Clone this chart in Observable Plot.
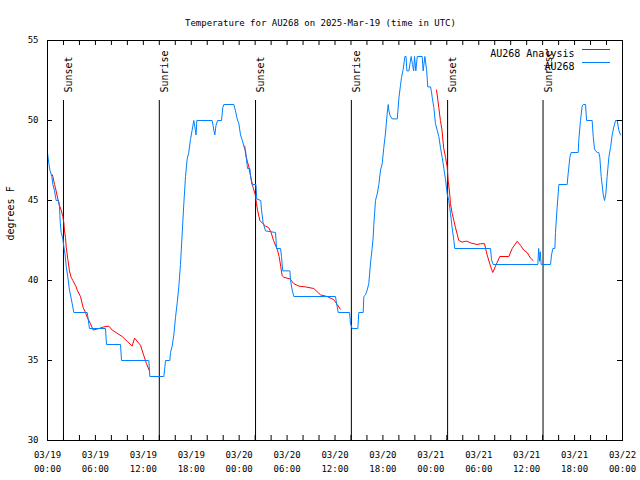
<!DOCTYPE html>
<html>
<head>
<meta charset="utf-8">
<script src="https://cdn.jsdelivr.net/npm/d3@7"></script>
<script src="https://cdn.jsdelivr.net/npm/@observablehq/plot@0.6"></script>
<style>
  html, body { margin: 0; padding: 0; background: #ffffff; }
  svg { display: block; }
</style>
</head>
<body>
<div id="chart"></div>
<script>
// ---- Data (hours since 2025-03-19 00:00 UTC, temperature in °F) ----
const titleText = "Temperature for AU268 on 2025-Mar-19 (time in UTC)";
const yLabelText = "degrees F";

const xTickHours = [0, 6, 12, 18, 24, 30, 36, 42, 48, 54, 60, 66, 72];
const xTickLabels = ["03/19 00:00", "03/19 06:00", "03/19 12:00", "03/19 18:00",
  "03/20 00:00", "03/20 06:00", "03/20 12:00", "03/20 18:00",
  "03/21 00:00", "03/21 06:00", "03/21 12:00", "03/21 18:00", "03/22 00:00"];
const xMinorTickHours = [0, 2, 4, 6, 8, 10, 12, 14, 16, 18, 20, 22, 24, 26, 28, 30, 32, 34,
  36, 38, 40, 42, 44, 46, 48, 50, 52, 54, 56, 58, 60, 62, 64, 66, 68, 70, 72];
const yTicks = [30, 35, 40, 45, 50, 55];

const sunsetHours = [2.0, 26.05, 50.1];
const sunriseHours = [14.0, 38.05, 62.05];

const legendNames = ["AU268 Analysis", "AU268"];
const legendColors = ["#ff0000", "#0080ff"];

// AU268 observations
const au268 = [
  [0,48.0],[0.17,47.3],[0.3,46.9],[0.54,46.5],[0.67,46.0],[0.88,45.6],[1.08,45.0],[1.38,45.0],
  [1.5,44.6],[1.6,43.6],[1.71,43.0],[1.92,42.6],[2.05,42.1],[2.21,41.6],[2.34,40.9],[2.55,40.2],
  [2.75,39.4],[2.96,38.9],[3.3,38.0],[4.97,38.0],[5.26,37.0],[7.26,37.0],[7.39,36.0],[9.14,36.0],
  [9.27,35.0],[12.69,35.0],[12.81,34.0],[14.57,34.0],
  [14.7,34.6],[14.78,35.0],[15.32,35.0],[15.4,35.5],[15.61,35.9],[15.82,36.6],[16.03,37.7],
  [16.24,38.6],[16.44,39.6],[16.65,41.0],[16.86,42.9],[17.07,44.8],[17.28,46.5],[17.49,47.6],
  [17.69,48.0],[17.9,48.8],[18.11,49.4],[18.32,50.0],[18.45,49.6],[18.6,49.1],[18.7,50.0],
  [20.62,50.0],[20.83,49.4],[20.95,49.1],[21.1,49.7],[21.3,50.0],[21.79,50.0],[21.95,50.8],
  [22.08,51.0],[23.33,51.0],[23.54,50.6],[23.75,50.1],[23.96,49.8],[24.17,49.1],[24.37,48.8],
  [24.58,48.4],[24.8,48.1],[25.0,47.2],[25.05,47.0],[25.35,47.0],[25.4,46.6],[25.6,46.0],
  [26.1,46.0],[26.2,45.1],[26.7,45.0],[26.8,44.4],[26.88,44.1],[27.0,43.6],[27.3,43.1],
  [28.55,43.0],[28.68,42.0],[29.18,42.0],[29.3,41.5],[29.4,40.9],[29.47,40.6],[30.35,40.6],
  [30.43,40.0],[30.64,39.4],[30.85,39.0],[36.06,39.0],[36.19,38.6],[36.4,38.0],[37.82,38.0],
  [37.94,37.3],[38.15,37.0],[38.86,37.0],[38.98,38.0],[39.53,38.0],[39.61,39.0],[39.82,39.1],
  [40.03,39.4],[40.23,39.8],[40.45,41.1],[40.65,42.0],[40.78,42.7],[40.86,43.5],[41.07,45.0],
  [41.28,45.4],[41.49,46.0],[41.7,46.9],[41.91,47.3],[42.11,48.3],[42.3,49.1],[42.53,50.4],
  [42.66,51.0],[42.75,50.6],[42.9,50.3],[43.16,50.1],[43.8,50.1],[44.0,51.4],[44.2,52.2],
  [44.33,52.7],[44.54,53.2],[44.75,54.0],[44.9,54.0],[45.0,53.1],[45.25,53.1],[45.4,53.6],
  [45.54,54.0],[45.7,53.5],[45.85,53.1],[45.96,54.0],[46.12,53.1],[46.3,54.0],[46.92,54.0],
  [47.04,53.1],[47.25,54.0],[47.46,53.2],[47.62,52.1],[47.96,52.1],[48.08,51.8],[48.17,51.45],
  [48.38,50.8],[48.58,49.8],[48.79,49.4],[49.0,49.0],[49.21,48.3],[49.42,47.7],[49.63,47.0],
  [49.84,46.3],[50.05,45.4],[50.25,45.0],[50.46,44.2],[50.67,43.3],[50.88,42.5],[51.0,42.0],
  [55.47,42.0],[55.6,41.3],[55.8,41.0],[61.4,41.0],[61.5,42.0],[61.62,41.2],[61.7,41.8],
  [61.82,41.0],[62.99,41.0],[63.11,41.6],[63.28,42.0],[63.53,42.0],[63.61,43.0],[63.82,44.6],
  [64.03,46.0],[65.07,46.0],[65.2,46.7],[65.41,47.7],[65.57,48.0],[66.45,48.0],[66.53,48.8],
  [66.74,50.0],[66.95,50.9],[67.08,51.0],[67.37,51.0],[67.5,50.0],[68.2,50.0],[68.33,49.0],
  [68.5,48.2],[68.83,48.0],[69.03,48.0],[69.16,47.7],[69.33,46.5],[69.58,45.4],[69.75,45.0],
  [69.91,45.4],[70.08,46.5],[70.29,47.7],[70.5,48.3],[70.71,49.1],[70.92,49.6],[71.13,50.0],
  [71.33,50.0],[71.54,49.4],[71.75,49.1]
];

// AU268 Analysis (three nightly segments)
const analysisNight1 = [
  [0.6,46.6],[0.67,46.5],[0.88,46.0],[1.08,45.6],[1.29,45.1],[1.5,44.7],[1.71,44.4],[1.92,44.0],
  [2.05,43.6],[2.13,43.1],[2.25,42.7],[2.34,42.1],[2.55,41.3],[2.75,40.6],[2.96,40.2],[3.17,40.0],
  [3.59,39.6],[3.72,39.4],[4.13,39.0],[4.47,38.3],[4.76,38.0],[4.97,37.7],[5.38,37.3],[5.72,36.9],
  [6.43,37.0],[7.05,37.1],[7.68,37.15],[8.1,36.9],[8.72,36.7],[9.35,36.5],[9.98,36.2],[10.6,35.9],
  [10.9,36.4],[11.65,35.95],[12.06,35.3],[12.4,34.8],[12.72,34.4]
];
const analysisNight2 = [
  [24.7,48.4],[24.8,47.9],[25.0,47.5],[25.21,47.1],[25.5,46.35],[25.75,45.8],[26.0,45.4],
  [26.17,44.8],[26.3,44.4],[26.59,43.75],[26.88,43.6],[27.3,43.4],[27.7,43.3],[28.0,43.0],
  [28.3,42.5],[28.8,41.9],[29.0,41.5],[29.2,40.9],[29.38,40.3],[29.6,40.2],[30.35,40.1],
  [30.85,39.8],[31.47,39.65],[32.3,39.6],[33.35,39.5],[34.19,39.1],[35.0,39.0],[35.85,38.8],
  [36.27,38.5],[36.69,38.2]
];
const analysisNight3 = [
  [48.7,51.9],[48.8,51.6],[49.0,50.8],[49.2,50.0],[49.4,49.4],[49.6,48.3],[49.84,47.7],
  [50.05,47.1],[50.17,46.25],[50.33,45.6],[50.46,44.8],[50.67,44.2],[50.88,43.75],[51.09,43.3],
  [51.3,42.9],[51.5,42.5],[51.92,42.4],[52.34,42.45],[52.55,42.45],[52.97,42.35],[53.38,42.3],
  [53.8,42.25],[54.22,42.3],[54.72,42.3],[55.05,41.6],[55.47,40.9],[55.76,40.5],[56.1,40.9],
  [56.64,41.5],[57.77,41.5],[58.19,42.0],[58.81,42.45],[59.23,42.2],[59.64,41.9],[60.06,41.75],
  [60.48,41.4],[60.81,41.25]
];

// ---- Build tables ----
const obs = au268.map(([h, t]) => ({h, t}));
const analysis = [analysisNight1, analysisNight2, analysisNight3]
  .flatMap((night, k) => night.map(([h, t]) => ({h, t, night: k})));
const events = [
  ...sunsetHours.map(h => ({h, label: "Sunset"})),
  ...sunriseHours.map(h => ({h, label: "Sunrise"}))
];
const legend = legendNames.map((name, i) => ({name, color: legendColors[i], i}));

const W = 640, H = 480, ML = 47, MR = 18, MT = 40, MB = 40;
const tick = 5;

function legendLines(index, scales, values, dims) {
  const g = d3.create("svg:g");
  const x2 = dims.width - dims.marginRight - 12;
  const x1 = x2 - 28;
  legend.forEach((d, i) => {
    const y = dims.marginTop + 9.5 + 13 * i;
    g.append("line").attr("x1", x1).attr("x2", x2).attr("y1", y).attr("y2", y)
      .attr("stroke", d.color).attr("stroke-width", 1);
  });
  return g.node();
}

const chart = Plot.plot({
  width: W, height: H,
  marginLeft: ML, marginRight: MR, marginTop: MT, marginBottom: MB,
  x: {domain: [0, 72], axis: null},
  y: {domain: [30, 55], axis: null},
  style: {fontFamily: "'DejaVu Sans Mono', monospace", fontSize: "9px", background: "#ffffff", color: "#000"},
  marks: [
    // sunrise / sunset markers
    Plot.ruleX(events, {x: "h", insetTop: 60, stroke: "#000", strokeWidth: 1}),
    Plot.text(events, {x: "h", text: "label", frameAnchor: "top", dy: 52, dx: 1.5,
      rotate: -90, textAnchor: "start", fill: "#000", fontSize: 10}),
    // series
    Plot.line(analysis, {x: "h", y: "t", z: "night", stroke: legendColors[0], strokeWidth: 1, curve: "linear"}),
    Plot.line(obs, {x: "h", y: "t", stroke: legendColors[1], strokeWidth: 1, curve: "linear"}),
    // border and inward ticks
    Plot.frame({stroke: "#000", strokeWidth: 1}),
    Plot.ruleY(yTicks, {y: d => d, insetRight: W - ML - MR - tick, stroke: "#000"}),
    Plot.ruleY(yTicks, {y: d => d, insetLeft: W - ML - MR - tick, stroke: "#000"}),
    Plot.ruleX(xMinorTickHours, {x: d => d, insetTop: H - MT - MB - tick, stroke: "#000"}),
    Plot.ruleX(xMinorTickHours, {x: d => d, insetBottom: H - MT - MB - tick, stroke: "#000"}),
    // tick labels
    Plot.text(yTicks, {y: d => d, text: d => String(d), frameAnchor: "left", dx: -9,
      textAnchor: "end", fill: "#000", fontSize: 9}),
    Plot.text(xTickHours, {x: d => d, text: (d, i) => xTickLabels[i].replace(" ", "\n"),
      frameAnchor: "bottom", dy: 8, lineAnchor: "top", lineHeight: 1.5, fill: "#000", fontSize: 9}),
    // title and axis label
    Plot.text([titleText], {text: d => d, frameAnchor: "top", dy: -21, dx: (W / 2) - (ML + (W - ML - MR) / 2),
      fill: "#000", fontSize: 9}),
    Plot.text([yLabelText], {text: d => d, frameAnchor: "left", dx: -37, rotate: -90, fill: "#000", fontSize: 10}),
    // legend
    Plot.text([legend[0]], {text: "name", frameAnchor: "top-right", dx: -48, dy: 9,
      fill: "#000", fontSize: 10, textAnchor: "end"}),
    Plot.text([legend[1]], {text: "name", frameAnchor: "top-right", dx: -48, dy: 22,
      fill: "#000", fontSize: 10, textAnchor: "end"}),
    legendLines
  ]
});

document.getElementById("chart").appendChild(chart);
</script>
</body>
</html>
